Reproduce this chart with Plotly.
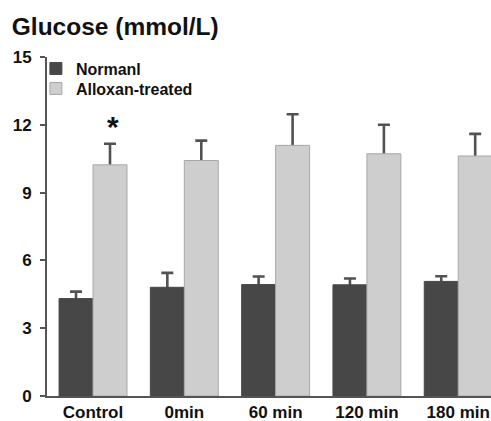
import plotly.graph_objects as go

categories = ["Control", "0min", "60 min", "120 min", "180 min"]
series_names = ["Normanl", "Alloxan-treated"]
normal_vals = [4.31, 4.81, 4.93, 4.92, 5.07]
normal_err = [0.31, 0.64, 0.36, 0.28, 0.23]
alloxan_vals = [10.23, 10.42, 11.09, 10.72, 10.62]
alloxan_err = [0.93, 0.88, 1.38, 1.28, 0.98]
y_ticks = [0, 3, 6, 9, 12, 15]
title_text = "Glucose (mmol/L)"
sig_mark = "*"
sig_category_index = 0

FONT = "Liberation Sans, Arial, sans-serif"
DARK = "#474747"
LIGHT = "#cecece"
LIGHT_EDGE = "#a8a8a8"
AXIS = "#555555"
ERR = "#525252"
BW = 0.372

fig = go.Figure()

# Error bar carriers (drawn beneath the visible bars so only the upper whisker shows)
for vals, errs, off in [(normal_vals, normal_err, -BW), (alloxan_vals, alloxan_err, 0.0)]:
    fig.add_trace(go.Bar(
        x=categories, y=vals, width=BW, offset=off,
        marker=dict(color="rgba(0,0,0,0)", line=dict(width=0)),
        error_y=dict(type="data", symmetric=False, array=errs, arrayminus=vals,
                     color=ERR, thickness=2.6, width=6),
        showlegend=False, hoverinfo="skip",
    ))

fig.add_trace(go.Bar(
    x=categories, y=normal_vals, width=BW, offset=-BW, name=series_names[0],
    marker=dict(color=DARK, line=dict(color=DARK, width=1)), legend="legend",
))
fig.add_trace(go.Bar(
    x=categories, y=alloxan_vals, width=BW, offset=0.0, name=series_names[1],
    marker=dict(color=LIGHT, line=dict(color=LIGHT_EDGE, width=1)), legend="legend2",
))

fig.add_annotation(
    x=sig_category_index + BW / 2 + 0.03,
    y=alloxan_vals[sig_category_index] + alloxan_err[sig_category_index] + 0.78,
    xref="x", yref="y", text=sig_mark, showarrow=False,
    font=dict(family=FONT, size=30, color="#111111", weight="bold"),
)

legend_font = dict(family=FONT, size=16, color="#111111", weight="bold")
legend_common = dict(x=-0.025, xanchor="left", yanchor="top",
                     bgcolor="rgba(0,0,0,0)", borderwidth=0, itemwidth=30,
                     font=legend_font)

fig.update_layout(
    width=491, height=421,
    margin=dict(l=47, r=0, t=57, b=25, autoexpand=False),
    paper_bgcolor="white", plot_bgcolor="white",
    barmode="overlay",
    font=dict(family=FONT, color="#111111"),
    title=dict(text="<b>" + title_text + "</b>", x=0.024, xanchor="left",
               y=0.938, yanchor="middle", xref="container", yref="container",
               font=dict(family=FONT, size=24.5, color="#111111")),
    legend=dict(y=1.016, **legend_common),
    legend2=dict(y=0.957, **legend_common),
    showlegend=True,
    xaxis=dict(
        type="category", range=[-0.504, 4.359], showgrid=False, zeroline=False,
        showline=True, linecolor=AXIS, linewidth=2, ticks="",
        tickfont=dict(family=FONT, size=17, color="#111111", weight="bold"),
        ticklabelstandoff=0, automargin=False,
    ),
    yaxis=dict(
        range=[0, 15], tickvals=y_ticks, showgrid=False, zeroline=False,
        showline=True, linecolor=AXIS, linewidth=2,
        ticks="outside", ticklen=5, tickwidth=2, tickcolor=AXIS,
        tickfont=dict(family=FONT, size=17, color="#111111", weight="bold"),
        ticklabelstandoff=5, automargin=False,
    ),
)

fig.write_html("out.html")
